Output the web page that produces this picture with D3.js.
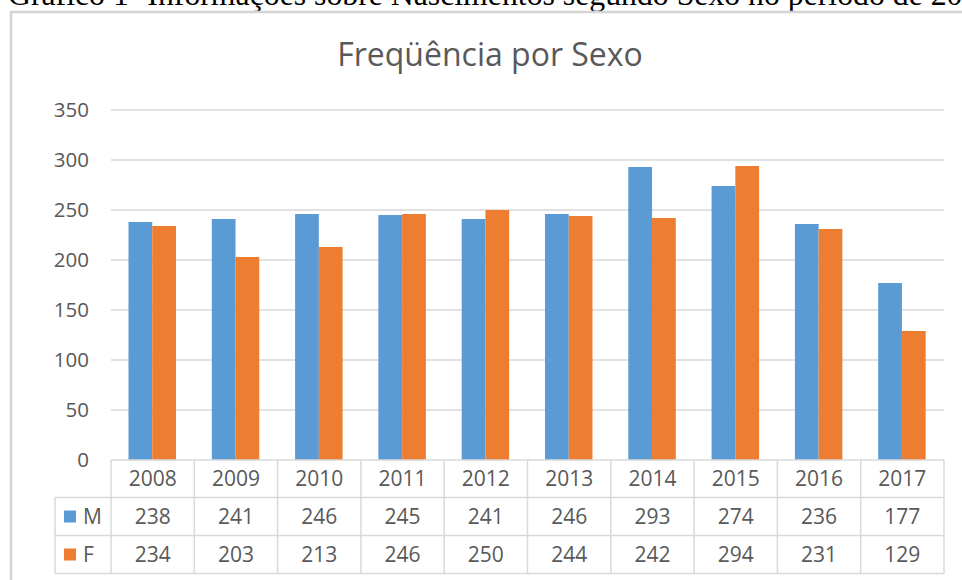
<!DOCTYPE html>
<html>
<head>
<meta charset="utf-8">
<script src="https://cdn.jsdelivr.net/npm/d3@7"></script>
<style>
    body { margin: 0; background: #fff; overflow: hidden; }
    svg text { font-family: "Open Sans", "Segoe UI", sans-serif; }
</style>
</head>
<body>
<script>
var years = ["2008", "2009", "2010", "2011", "2012", "2013", "2014", "2015", "2016", "2017"];
var series = ["M", "F"];
var valuesM = [238, 241, 246, 245, 241, 246, 293, 274, 236, 177];
var valuesF = [234, 203, 213, 246, 250, 244, 242, 294, 231, 129];
var yTicks = [0, 50, 100, 150, 200, 250, 300, 350];

var w = 962, h = 580;

var colors = {
    "M": "#5B9BD5",
    "F": "#ED7D31"
};

var rows = [];
for(var i = 0; i < years.length; i++) {
    rows.push({year: years[i], M: valuesM[i], F: valuesF[i]});
}

var svg = d3.select("body")
            .append("svg")
            .attr("width", w)
            .attr("height", h);

// caption above the chart (cut off at the top and right in the original)
var captionStart = "Gráfico 1- Informações sobre Nascimentos segundo Sexo no período de 20";
var caption = svg.append("text")
    .attr("x", 8)
    .attr("y", 5)
    .style("font-family", "'Liberation Serif', 'Times New Roman', serif")
    .style("font-size", "30px")
    .attr("fill", "#000")
    .text(captionStart);

// size it so "...de 20" ends at the right edge, like the reference
var capW = caption.node().getComputedTextLength();
caption.style("font-size", (30 * 955 / capW) + "px")
    .text(captionStart + "08 a 2017");

// chart frame
svg.append("path")
    .attr("d", "M11,580 V12 H962")
    .attr("fill", "none")
    .attr("stroke", "#d4d4d4")
    .attr("stroke-width", 2.5);

var xScale = d3.scaleBand()
                .domain(years)
                .range([111, 944]);

var xSub = d3.scaleBand()
                .domain(series)
                .range([xScale.bandwidth() * 0.21, xScale.bandwidth() * 0.78]);

var yScale = d3.scaleLinear()
                .domain([0, 350])
                .range([460, 110]);

// gridlines
svg.append("g")
    .selectAll("line")
    .data(yTicks.slice(1))
    .enter()
    .append("line")
    .attr("x1", 111)
    .attr("x2", 944)
    .attr("y1", d => yScale(d))
    .attr("y2", d => yScale(d))
    .attr("stroke", "#d9d9d9")
    .attr("stroke-width", 1.5);

// y axis labels
var yAxis = d3.axisLeft()
            .scale(yScale)
            .tickValues(yTicks)
            .tickSize(0)
            .tickPadding(0);

var yG = svg.append("g")
    .attr("transform", "translate(89,0)")
    .call(yAxis);
yG.select(".domain").remove();
yG.selectAll("text")
    .style("font-family", "'Open Sans', sans-serif")
    .style("font-size", "20.5px")
    .attr("fill", "#595959");

// bars
var groups = svg.append("g")
    .selectAll("g")
    .data(rows)
    .enter()
    .append("g")
    .attr("transform", d => "translate(" + xScale(d.year) + ",0)");

groups.selectAll("rect")
    .data(d => series.map(k => ({key: k, value: d[k]})))
    .enter()
    .append("rect")
    .attr("x", d => xSub(d.key))
    .attr("y", d => yScale(d.value))
    .attr("width", xSub.bandwidth())
    .attr("height", d => yScale(0) - yScale(d.value))
    .attr("fill", d => colors[d.key]);

// data table
var rowTop = [460, 497.5, 535.5, 573.5];
var legendLeft = 55;
var table = svg.append("g");

var hLines = [
    {y: rowTop[0], x1: 111},
    {y: rowTop[1], x1: legendLeft},
    {y: rowTop[2], x1: legendLeft},
    {y: rowTop[3], x1: legendLeft}
];

table.selectAll(".hline")
    .data(hLines)
    .enter()
    .append("line")
    .attr("class", "hline")
    .attr("x1", d => d.x1)
    .attr("x2", 944)
    .attr("y1", d => d.y)
    .attr("y2", d => d.y)
    .attr("stroke", "#d9d9d9")
    .attr("stroke-width", 1.5);

var vLines = years.map(d => ({x: xScale(d), y1: rowTop[0]}));
vLines.push({x: 944, y1: rowTop[0]});
vLines.push({x: legendLeft, y1: rowTop[1]});

table.selectAll(".vline")
    .data(vLines)
    .enter()
    .append("line")
    .attr("class", "vline")
    .attr("x1", d => d.x)
    .attr("x2", d => d.x)
    .attr("y1", d => d.y1)
    .attr("y2", rowTop[3])
    .attr("stroke", "#d9d9d9")
    .attr("stroke-width", 1.5);

var cellText = function(sel) {
    sel.attr("text-anchor", "middle")
        .attr("dy", "0.35em")
        .style("font-size", "21px")
        .attr("fill", "#595959");
};

table.selectAll(".yearLabel")
    .data(years)
    .enter()
    .append("text")
    .attr("class", "yearLabel")
    .attr("x", d => xScale(d) + xScale.bandwidth() / 2)
    .attr("y", (rowTop[0] + rowTop[1]) / 2)
    .text(d => d)
    .call(cellText);

series.forEach(function(key, r) {
    var cy = (rowTop[r + 1] + rowTop[r + 2]) / 2;
    var vals = key === "M" ? valuesM : valuesF;

    table.selectAll(".val" + key)
        .data(vals)
        .enter()
        .append("text")
        .attr("class", "val" + key)
        .attr("x", (d, i) => xScale(years[i]) + xScale.bandwidth() / 2)
        .attr("y", cy)
        .text(d => d)
        .call(cellText);

    table.append("rect")
        .attr("x", 64)
        .attr("y", cy - 6)
        .attr("width", 12)
        .attr("height", 12)
        .attr("fill", colors[key]);

    table.append("text")
        .attr("x", 83)
        .attr("y", cy)
        .attr("dy", "0.35em")
        .style("font-size", "21px")
        .attr("fill", "#595959")
        .text(key);
});

// title
svg.append("text")
    .attr("x", 490)
    .attr("y", 66)
    .attr("text-anchor", "middle")
    .style("font-size", "32px")
    .attr("fill", "#595959")
    .text("Freqüência por Sexo");
</script>
</body>
</html>
